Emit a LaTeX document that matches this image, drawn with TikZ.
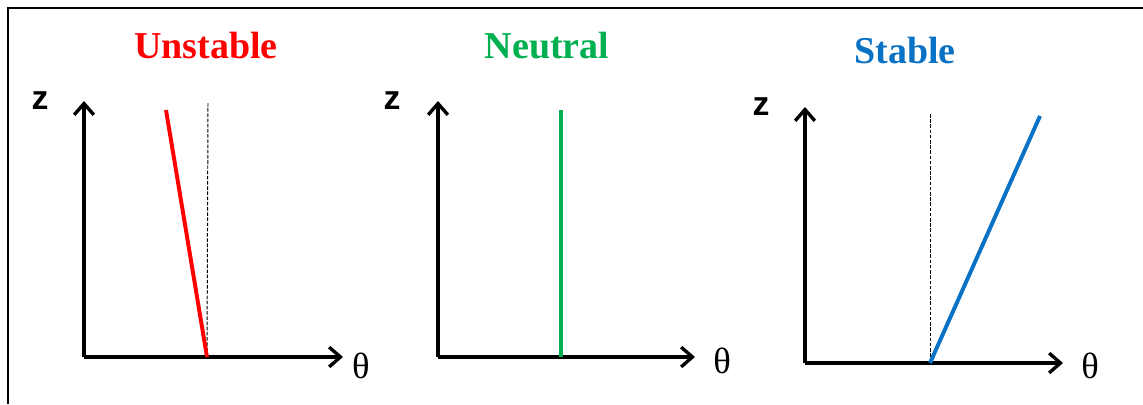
\documentclass[tikz,border=0pt]{standalone}
\usepackage{fontspec}
\setmainfont{Liberation Serif}
\newfontfamily\axisfont{Liberation Sans}
\usepackage{tikz}
\usetikzlibrary{arrows.meta}
\definecolor{ProfRed}{HTML}{FF0000}
\definecolor{ProfGreen}{HTML}{00B050}
\definecolor{ProfBlue}{HTML}{0A72C4}
\definecolor{AxisInk}{HTML}{000000}

\begin{document}
\begin{tikzpicture}[x=0.025cm,y=-0.025cm,>={Straight Barb[length=8pt,width=14pt,line width=2.4pt]},
  axis/.style={->,AxisInk,line width=2.6pt},
  profile/.style={line width=2.8pt},
  refline/.style={AxisInk,dash pattern=on 2.5pt off 1.2pt,line width=0.7pt},
  title/.style={font=\fontsize{27}{30}\selectfont\bfseries},
  zlab/.style={font=\axisfont\bfseries\fontsize{24}{26}\selectfont},
  thlab/.style={font=\fontsize{26}{28}\selectfont}]
  \useasboundingbox (0,0) rectangle (1143,404);
  \draw[line width=2pt] (8,404) -- (8,8) -- (1143,8);
  % unstable
  \node[title,ProfRed] (tU) at (206,46) {Unstable};
  \coordinate (oU) at (84,357);
  \coordinate (yU) at (84,101);
  \coordinate (xU) at (343,357);
  \coordinate (bU) at (207,357);
  \coordinate (pU) at (166,110);
  \coordinate (dU) at (208,103);
  \node[zlab] (zU) at (40,101) {z};
  \node[thlab] (qU) at (361,366) {θ};
  \draw[refline] (dU) -- (bU);
  \draw[axis] (oU) -- (yU);
  \draw[axis] (oU) -- (xU);
  \draw[profile,ProfRed] (bU) -- (pU);
  % neutral
  \node[title,ProfGreen] (tN) at (547,46) {Neutral};
  \coordinate (oN) at (438,357);
  \coordinate (yN) at (438,101);
  \coordinate (xN) at (695,357);
  \coordinate (bN) at (561,357);
  \coordinate (pN) at (561,110);
  \node[zlab] (zN) at (392,101) {z};
  \node[thlab] (qN) at (722,361) {θ};
  \draw[axis] (oN) -- (yN);
  \draw[axis] (oN) -- (xN);
  \draw[profile,ProfGreen] (bN) -- (pN);
  % stable
  \node[title,ProfBlue] (tS) at (905,51) {Stable};
  \coordinate (oS) at (805,363);
  \coordinate (yS) at (805,107);
  \coordinate (xS) at (1063,363);
  \coordinate (bS) at (930,363);
  \coordinate (pS) at (1040,116);
  \coordinate (dS) at (930,114);
  \node[zlab] (zS) at (761,107) {z};
  \node[thlab] (qS) at (1090,366) {θ};
  \draw[refline] (dS) -- (bS);
  \draw[axis] (oS) -- (yS);
  \draw[axis] (oS) -- (xS);
  \draw[profile,ProfBlue] (bS) -- (pS);
\end{tikzpicture}
\end{document}
